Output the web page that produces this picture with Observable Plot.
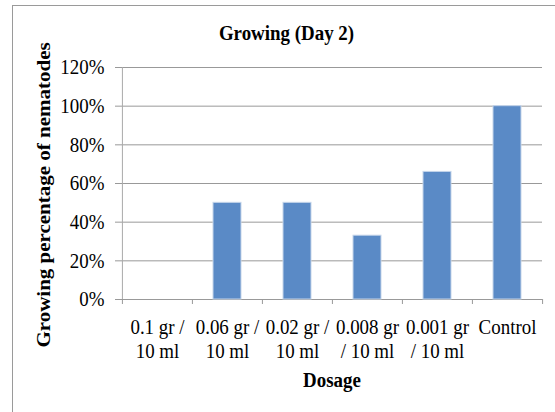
<!DOCTYPE html>
<html>
<head>
<meta charset="utf-8">
<script src="https://cdn.jsdelivr.net/npm/d3@7"></script>
<script src="https://cdn.jsdelivr.net/npm/@observablehq/plot@0.6"></script>
<style>
  html, body { margin: 0; padding: 0; background: #fff; }
  #wrap { position: relative; width: 555px; height: 412px; overflow: hidden; }
  #border { position: absolute; left: 12px; top: 5px; width: 700px; height: 600px;
            border-top: 1.6px solid #9a9a9a; border-left: 1.4px solid #9a9a9a; }
  #chart { position: absolute; left: 0; top: 0; }
  #chart svg text { font-family: 'Liberation Serif', 'Times New Roman', serif; }
</style>
</head>
<body>
<div id="wrap"><div id="border"></div><div id="chart"></div></div>
<script>
const categories = ["0.1 gr / 10 ml", "0.06 gr / 10 ml", "0.02 gr / 10 ml", "0.008 gr / 10 ml", "0.001 gr / 10 ml", "Control"];
const tickLabels = ["0.1 gr /\n10 ml", "0.06 gr /\n10 ml", "0.02 gr /\n10 ml", "0.008 gr\n/ 10 ml", "0.001 gr\n/ 10 ml", "Control"];
const values = [0, 50, 50, 33, 66, 100];
const yTicks = [0, 20, 40, 60, 80, 100, 120];
const title = "Growing (Day 2)";
const xTitle = "Dosage";
const yTitle = "Growing percentage of nematodes";

const data = categories.map((c, i) => ({category: c, value: values[i]}));
const labelOf = new Map(categories.map((c, i) => [c, tickLabels[i]]));

const W = 555, H = 412;
const mL = 121, mR = 13, mT = 67, mB = 113;
const half = (W - mL - mR) / categories.length / 2;
const serif = "'Liberation Serif', 'Times New Roman', serif";
const fs = 21.5;

const chart = Plot.plot({
  width: W,
  height: H,
  marginLeft: mL,
  marginRight: mR,
  marginTop: mT,
  marginBottom: mB,
  style: {fontFamily: serif, background: "transparent", overflow: "visible", color: "#000"},
  x: {domain: categories, paddingInner: 0, paddingOuter: 0, label: null},
  y: {domain: [0, 120], label: null},
  marks: [
    Plot.gridY(yTicks, {stroke: "#999", strokeOpacity: 1, strokeWidth: 1}),
    Plot.ruleX([0], {x: () => categories[0], dx: -half, y1: 0, y2: 120, stroke: "#aaa", strokeWidth: 1}),
    Plot.barY(data, {x: "category", y: "value", fill: "#5a8ac6", stroke: "#c5d5ea", strokeWidth: 1, insetLeft: 21, insetRight: 21}),
    Plot.axisY(yTicks, {tickSize: 6, tickPadding: 11, stroke: "#999", tickFormat: d => d + "%", fontSize: fs, fontFamily: serif, fill: "#000", label: null}),
    Plot.axisX(categories, {tickSize: 5, dx: -half, stroke: "#999", tickFormat: () => "", label: null}),
    Plot.axisX([categories[categories.length - 1]], {tickSize: 5, dx: half, stroke: "#999", tickFormat: () => "", label: null}),
    Plot.axisX(categories, {tickSize: 0, tickPadding: 17.5, tickFormat: d => labelOf.get(d), lineHeight: 1.12, fontSize: fs, fontFamily: serif, fill: "#000", label: null}),
    Plot.text([title], {frameAnchor: "top", lineAnchor: "middle", textAnchor: "middle", dy: -34, dx: -45.5, fontSize: fs, fontFamily: serif, fontWeight: "bold", fill: "#000"}),
    Plot.text([xTitle], {frameAnchor: "bottom", lineAnchor: "middle", textAnchor: "middle", dy: 81, fontSize: fs, fontFamily: serif, fontWeight: "bold", fill: "#000"}),
    Plot.text([yTitle], {frameAnchor: "left", lineAnchor: "middle", textAnchor: "middle", dx: -77, dy: 11.5, rotate: -90, fontSize: 21, fontFamily: serif, fontWeight: "bold", fill: "#000"})
  ]
});
// mimic the reference's horizontally condensed lettering
chart.querySelectorAll("text").forEach(t => {
  const tr = t.getAttribute("transform");
  if (!tr || !/translate/.test(tr)) return;
  t.setAttribute("transform", tr + (/rotate/.test(tr) ? " scale(1,0.88)" : " scale(0.88,1)"));
});
document.getElementById("chart").appendChild(chart);
</script>
</body>
</html>
